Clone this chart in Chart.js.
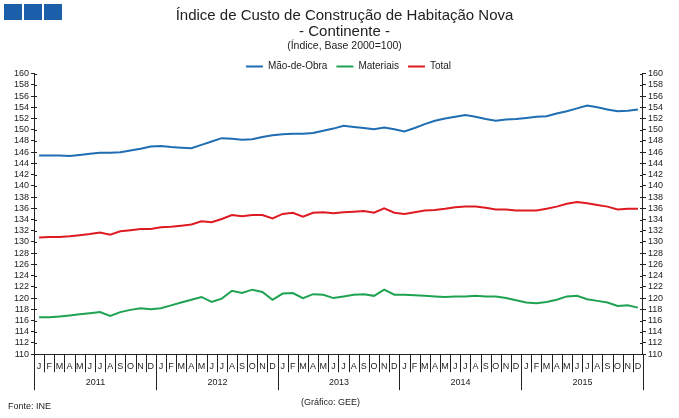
<!DOCTYPE html>
<html>
<head>
<meta charset="utf-8">
<script src="https://cdn.jsdelivr.net/npm/chart.js@4"></script>
<style>
  html, body { margin: 0; padding: 0; background: #fff; }
  #wrap { position: relative; width: 679px; height: 418px; }
  .sq { position: absolute; top: 4px; width: 18px; height: 16px; background: #1b5ea9; }
  .note { position: absolute; font: 9px "Liberation Sans", Arial, sans-serif; color: #222; white-space: nowrap; }
</style>
</head>
<body>
<div id="wrap">
  <canvas id="chart" width="679" height="418"></canvas>
  <div class="sq" style="left:4px"></div>
  <div class="sq" style="left:24px"></div>
  <div class="sq" style="left:44px"></div>
  <div class="note" style="left:8px;top:401px">Fonte: INE</div>
  <div class="note" style="left:301px;top:397px">(Gráfico: GEE)</div>
</div>
<script>
const years  = ['2011', '2012', '2013', '2014', '2015'];
const months = ['J','F','M','A','M','J','J','A','S','O','N','D'];
const yTicks = { min: 110, max: 160, step: 2 };

const maoDeObra = [
  145.4, 145.4, 145.4, 145.3, 145.5, 145.7, 145.9, 145.9, 146.0, 146.3, 146.6, 147.0,
  147.1, 146.9, 146.8, 146.7, 147.3, 147.9, 148.5, 148.4, 148.2, 148.3, 148.7, 149.0,
  149.2, 149.3, 149.3, 149.4, 149.8, 150.2, 150.7, 150.5, 150.3, 150.1, 150.4, 150.1,
  149.7, 150.3, 151.0, 151.6, 152.0, 152.3, 152.6, 152.3, 151.9, 151.6, 151.8, 151.9,
  152.1, 152.3, 152.4, 152.9, 153.3, 153.8, 154.3, 154.0, 153.6, 153.3, 153.4, 153.6
];
const materiais = [
  116.6, 116.6, 116.7, 116.9, 117.1, 117.3, 117.5, 116.8, 117.5, 117.9, 118.2, 118.0,
  118.2, 118.7, 119.2, 119.7, 120.2, 119.3, 119.9, 121.3, 120.9, 121.5, 121.1, 119.7,
  120.8, 120.9, 120.0, 120.7, 120.6, 120.0, 120.3, 120.6, 120.7, 120.4, 121.5, 120.6,
  120.6, 120.5, 120.4, 120.3, 120.2, 120.3, 120.3, 120.4, 120.3, 120.3, 120.0, 119.6,
  119.2, 119.1, 119.3, 119.7, 120.3, 120.4, 119.8, 119.5, 119.2, 118.6, 118.7, 118.3
];
const total = [
  130.8, 130.9, 130.9, 131.0, 131.2, 131.4, 131.7, 131.3, 131.9, 132.1, 132.3, 132.3,
  132.6, 132.7, 132.9, 133.1, 133.7, 133.5, 134.1, 134.8, 134.6, 134.8, 134.8, 134.2,
  135.0, 135.2, 134.5, 135.2, 135.3, 135.1, 135.3, 135.4, 135.5, 135.2, 136.0, 135.2,
  135.0, 135.3, 135.6, 135.7, 135.9, 136.2, 136.3, 136.3, 136.1, 135.8, 135.8, 135.6,
  135.6, 135.6, 135.9, 136.3, 136.8, 137.1, 136.9, 136.6, 136.3, 135.8, 135.9, 135.9
];

const labels = years.flatMap(y => months.map((m, i) => y + '-' + (i + 1)));
const FONT = '"Liberation Sans", Arial, sans-serif';
const INK = '#222';

// the header block in the original sits a little right of centre
const nudgeHeader = {
  id: 'nudgeHeader',
  afterLayout(chart) {
    chart.boxes.forEach(box => {
      if (box.position !== 'top') return;
      const dx = box === chart.legend ? 10 : 6;
      box.left += dx; box.right += dx;
    });
  }
};

// month and year separators, year labels, inner half of the y ticks
const calendarAxis = {
  id: 'calendarAxis',
  afterDraw(chart) {
    const { ctx, chartArea, scales } = chart;
    const x = scales.x;
    const half = (x.getPixelForValue(1) - x.getPixelForValue(0)) / 2;
    const b = chartArea.bottom;
    const edge = i => Math.round(x.getPixelForValue(i) - half) + 0.5;
    ctx.save();
    ctx.strokeStyle = INK;
    ctx.fillStyle = INK;
    ctx.lineWidth = 1;
    ctx.beginPath();
    for (let i = 0; i <= labels.length; i++) {
      const len = i % 12 === 0 ? 36 : 18;
      ctx.moveTo(edge(i), b); ctx.lineTo(edge(i), b + len);
    }
    ctx.stroke();
    ctx.font = '9px ' + FONT;
    ctx.textAlign = 'center';
    ctx.textBaseline = 'middle';
    years.forEach((yr, k) => {
      ctx.fillText(yr, (edge(k * 12) + edge(k * 12 + 12)) / 2, b + 28);
    });
    ['y', 'y1'].forEach(id => {
      const s = scales[id];
      const ax = id === 'y' ? chartArea.left : chartArea.right;
      const dir = id === 'y' ? 1 : -1;
      ctx.beginPath();
      s.ticks.forEach(t => {
        const py = Math.round(s.getPixelForValue(t.value)) + 0.5;
        ctx.moveTo(ax, py); ctx.lineTo(ax + dir * 3, py);
      });
      ctx.stroke();
    });
    ctx.restore();
  }
};

const yAxis = (pos) => ({
  position: pos,
  min: yTicks.min, max: yTicks.max,
  border: { display: true, color: INK },
  grid: { drawOnChartArea: false, tickLength: 3, color: INK },
  ticks: { stepSize: yTicks.step, autoSkip: false, padding: 2, color: INK, font: { family: FONT, size: 9 } }
});

new Chart(document.getElementById('chart'), {
  type: 'line',
  data: {
    labels,
    datasets: [
      { label: 'Mão-de-Obra', data: maoDeObra, borderColor: '#1f6db3', backgroundColor: '#1f6db3' },
      { label: 'Materiais',   data: materiais, borderColor: '#1fa252', backgroundColor: '#1fa252' },
      { label: 'Total',       data: total,     borderColor: '#de1b22', backgroundColor: '#de1b22' }
    ]
  },
  options: {
    responsive: false,
    animation: false,
    elements: { point: { radius: 0 }, line: { borderWidth: 2, tension: 0 } },
    layout: { padding: { left: 12, right: 14, top: 0, bottom: 39 } },
    plugins: {
      title: {
        display: true,
        text: ['Índice de Custo de Construção de Habitação Nova', '- Continente -'],
        color: INK,
        font: { family: FONT, size: 15, weight: 'normal', lineHeight: 16 / 15 },
        padding: { top: 8, bottom: 0 }
      },
      subtitle: {
        display: true,
        text: '(Índice, Base 2000=100)',
        color: INK,
        font: { family: FONT, size: 10.5, weight: 'normal', lineHeight: 1.2 },
        padding: { top: 0, bottom: 0 }
      },
      legend: {
        maxHeight: 21,
        labels: {
          color: INK, boxWidth: 17, boxHeight: 2, padding: 9,
          font: { family: FONT, size: 10 },
          generateLabels: chart => Chart.defaults.plugins.legend.labels.generateLabels(chart)
            .map(l => ({ ...l, lineWidth: 0 }))
        }
      },
      tooltip: { enabled: false }
    },
    scales: {
      x: {
        offset: true,
        border: { display: true, color: INK },
        grid: { offset: true, drawOnChartArea: false, drawTicks: false },
        ticks: {
          autoSkip: false, maxRotation: 0, padding: 7, color: INK,
          font: { family: FONT, size: 9 },
          callback: (v, i) => months[i % 12]
        }
      },
      y: yAxis('left'),
      y1: yAxis('right')
    }
  },
  plugins: [nudgeHeader, calendarAxis]
});
</script>
</body>
</html>
